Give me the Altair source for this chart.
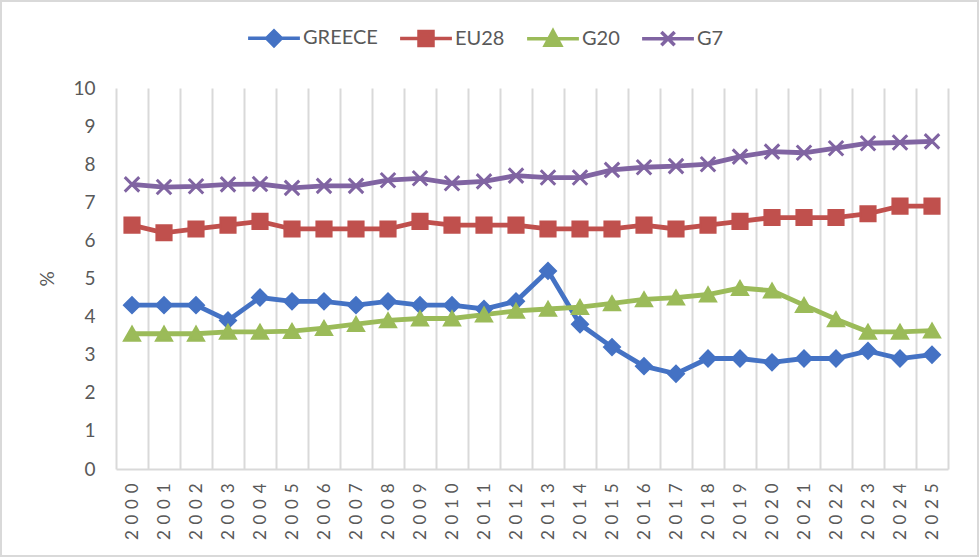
import altair as alt
import pandas as pd

# Unemployment-style share (%) by year for four economies
years = [str(y) for y in range(2000, 2026)]
series_names = ["GREECE", "EU28", "G20", "G7"]
series_colors = ["#4472C4", "#C0504D", "#9BBB59", "#8064A2"]

greece = [4.3, 4.3, 4.3, 3.9, 4.5, 4.4, 4.4, 4.3, 4.4, 4.3, 4.3, 4.2, 4.4,
          5.2, 3.8, 3.2, 2.7, 2.5, 2.9, 2.9, 2.8, 2.9, 2.9, 3.1, 2.9, 3.0]
eu28 = [6.4, 6.2, 6.3, 6.4, 6.5, 6.3, 6.3, 6.3, 6.3, 6.5, 6.4, 6.4, 6.4,
        6.3, 6.3, 6.3, 6.4, 6.3, 6.4, 6.5, 6.6, 6.6, 6.6, 6.7, 6.9, 6.9]
g20 = [3.55, 3.55, 3.55, 3.6, 3.6, 3.62, 3.7, 3.8, 3.9, 3.95, 3.95, 4.05, 4.15,
       4.2, 4.25, 4.35, 4.45, 4.5, 4.58, 4.75, 4.68, 4.3, 3.93, 3.6, 3.6, 3.63]
g7 = [7.47, 7.4, 7.42, 7.47, 7.48, 7.38, 7.43, 7.43, 7.58, 7.63, 7.5, 7.55, 7.7,
      7.65, 7.65, 7.85, 7.92, 7.95, 8.0, 8.2, 8.33, 8.3, 8.42, 8.55, 8.57, 8.6]

rows = []
for name, vals in zip(series_names, [greece, eu28, g20, g7]):
    for yr, v in zip(years, vals):
        rows.append({"year": yr, "series": name, "value": v})
df = pd.DataFrame(rows)

FONT = "Lato"
TEXT = "#595959"
GRID = "#D9D9D9"

PLOT_W, PLOT_H = 832, 381
PAD_L, PAD_T, PAD_R, PAD_B = 116, 88, 31, 88

# marker drawn on each series' data points: (shape, filled, size)
markers = {
    "GREECE": ("diamond", True, 235),
    "EU28": ("square", True, 215),
    "G20": ("triangle-up", True, 235),
    "G7": ("M-1,-1L1,1M1,-1L-1,1", False, 210),
}
# legend glyphs: a short line segment with the series marker on top
legend_glyphs = [
    "M-3.7,0L3.7,0M0,-1.05L1.05,0L0,1.05L-1.05,0Z",
    "M-3.7,0L3.7,0M-1,-1L1,-1L1,1L-1,1Z",
    "M-3.7,0L3.7,0M0,-1.1L1.1,0.95L-1.1,0.95Z",
    "M-3.7,0L3.7,0M-0.95,-0.95L0.95,0.95M0.95,-0.95L-0.95,0.95",
]

color_scale = alt.Scale(domain=series_names, range=series_colors)

x_enc = alt.X(
    "year:O",
    sort=years,
    scale=alt.Scale(type="band", paddingInner=0, paddingOuter=0),
    bandPosition=0.5,
    axis=alt.Axis(
        title=None,
        labelAngle=270,
        labelAlign="right",
        labelBaseline="middle",
        labelPadding=14,
        labelFontSize=17,
        labelColor=TEXT,
        labelFont=FONT,
        labelExpr="join(split(datum.label, ''), '\u2004')",
        tickBand="extent",
        ticks=False,
        grid=True,
        gridColor=GRID,
        gridWidth=2,
        domainColor=GRID,
        domainWidth=2,
    ),
)

y_enc = alt.Y(
    "value:Q",
    scale=alt.Scale(domain=[0, 10], nice=False, zero=True),
    axis=alt.Axis(
        values=list(range(11)),
        grid=False,
        domain=False,
        ticks=False,
        labelFontSize=19,
        labelColor=TEXT,
        labelFont=FONT,
        labelPadding=21,
        title="%",
        titleFont=FONT,
        titleFontSize=19,
        titleFontWeight="normal",
        titleColor=TEXT,
        titleAngle=270,
        titleX=-69,
        titleY=PLOT_H / 2,
        titleAlign="center",
        titleBaseline="middle",
    ),
)

legend = alt.Legend(
    title=None,
    orient="none",
    direction="horizontal",
    legendX=148,
    legendY=-60,
    symbolSize=196,
    symbolStrokeWidth=3.5,
    symbolOpacity=1,
    labelOffset=19,
    columnPadding=15,
    labelFont=FONT,
    labelFontSize=20,
    labelColor=TEXT,
)

base = alt.Chart(df)

# legend source: no rows survive the filter, the scales keep the entries
legend_layer = base.transform_filter("false").mark_point(
    filled=True, opacity=1
).encode(
    x=x_enc,
    y=y_enc,
    color=alt.Color("series:N", scale=color_scale, legend=legend),
    stroke=alt.Stroke("series:N", scale=color_scale, legend=legend),
    shape=alt.Shape(
        "series:N",
        scale=alt.Scale(domain=series_names, range=legend_glyphs),
        legend=legend,
    ),
)

lines = base.mark_line(strokeWidth=4.8).encode(
    x=x_enc,
    y=y_enc,
    color=alt.Color("series:N", scale=color_scale),
    detail="series:N",
)

point_layers = []
for name in series_names:
    shape, filled, size = markers[name]
    point_layers.append(
        base.transform_filter(alt.datum.series == name)
        .mark_point(shape=shape, filled=filled, opacity=1,
                    strokeWidth=2.5 if filled else 3, size=size)
        .encode(
            x=x_enc,
            y=y_enc,
            color=alt.Color("series:N", scale=color_scale),
            stroke=alt.Stroke("series:N", scale=color_scale),
        )
    )

frame = alt.Chart(pd.DataFrame({"k": [0]})).mark_rect(
    fill=None, stroke=GRID, strokeWidth=2
).encode(
    x=alt.value(-PAD_L + 1),
    x2=alt.value(PLOT_W + PAD_R - 1),
    y=alt.value(-PAD_T + 1),
    y2=alt.value(PLOT_H + PAD_B - 1),
)

chart = alt.layer(legend_layer, frame, lines, *point_layers).properties(
    width=PLOT_W,
    height=PLOT_H,
    autosize=alt.AutoSizeParams(type="none"),
    padding={"left": PAD_L, "top": PAD_T, "right": PAD_R, "bottom": PAD_B},
    background="white",
).configure_view(stroke=None)

chart.save("out.html", embed_options={"renderer": "svg", "actions": False})
